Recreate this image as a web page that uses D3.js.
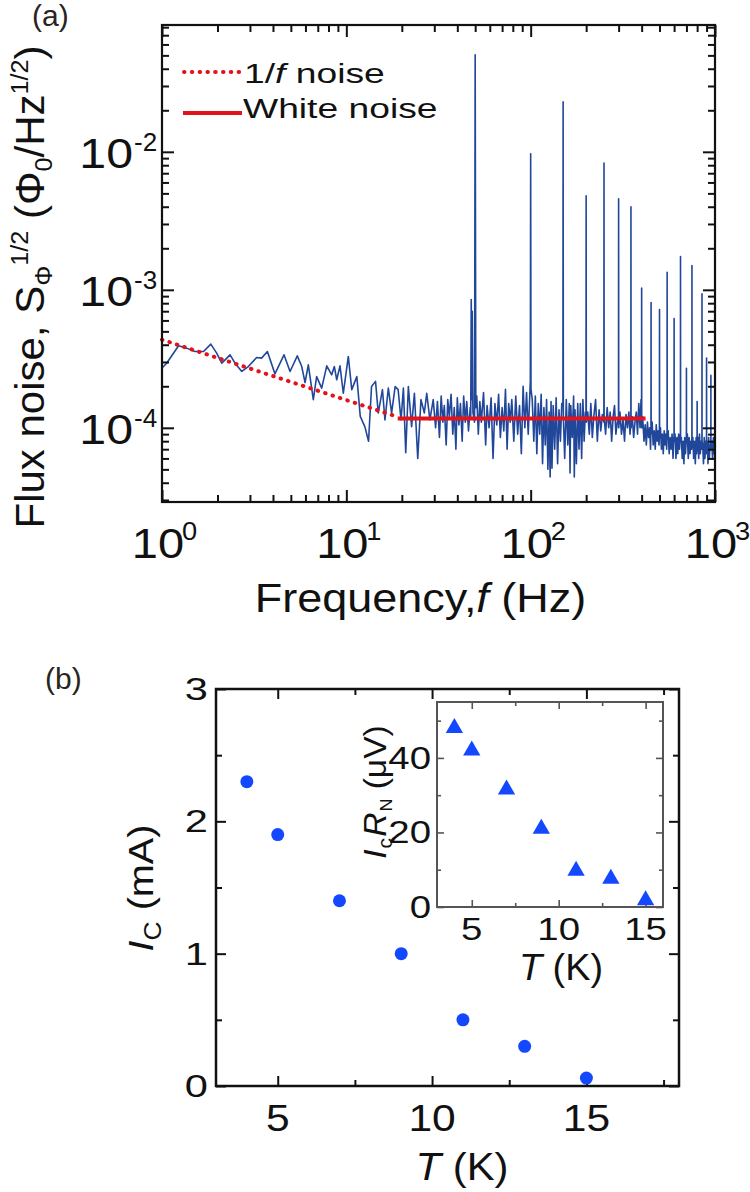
<!DOCTYPE html>
<html>
<head>
<meta charset="utf-8">
<script src="https://cdn.jsdelivr.net/npm/d3@7"></script>
<style>
  body { margin: 0; background: #fff; }
  text { font-family: "Liberation Sans", Arial, sans-serif; }
</style>
</head>
<body>
<svg id="chart" width="750" height="1192"></svg>
<script>
// ---------- data: panel (a) flux noise spectrum ----------
// [frequency (Hz), amplitude in units of 1e-4 Phi0/Hz^1/2]
const spectrum = [
  [1.0,2.71],[1.06,2.94],[1.23,3.93],[1.36,3.78],[1.51,3.57],[1.68,3.57],[1.84,4.04],[1.98,3.48],
  [2.11,2.94],[2.34,3.38],[2.49,2.94],[2.71,2.56],[2.94,2.78],[3.26,3.23],[3.47,3.20],[3.73,3.57],
  [4.10,2.46],[4.59,3.38],[4.95,2.56],[5.42,3.32],[5.73,2.78],[5.97,2.13],[6.22,2.86],[6.62,1.60],
  [6.90,2.35],[7.35,1.94],[7.83,2.81],[8.33,2.42],[8.61,2.78],[8.87,2.23],[9.24,2.81],[9.63,1.78],
  [10.25,3.29],[10.7,1.89],[11.4,2.35],[11.9,1.21],[12.6,1.02],[13.2,0.80],[13.7,1.99],[14.4,2.17],
  [14.9,1.28],[15.7,1.89],[16.2,1.14],[16.9,1.94],[17.6,1.28],[18.4,1.99],[19.1,1.89],[19.8,1.14],
  [20.4,1.94],[21.0,0.66],[21.7,1.99],[22.6,1.02],[23.4,1.78],[24.4,0.60],[25.4,1.60],[26.5,1.28],
  [27.3,1.78],[28.4,1.14],[29.6,1.60],
  [30.5,1.0],[31.2,1.55],[32,0.85],[32.7,1.7],[33.4,1.1],[34,1.45],[34.8,0.75],[35.5,1.6],[36.2,1.2],
  [37,1.75],[37.8,0.9],[38.5,1.4],[39.3,0.7],[40,1.65],[40.8,1.05],[41.6,1.5],[42.5,0.8],[43.3,1.7],
  [44.2,1.1],[45,1.55],[46,0.95],[47,1.4],
  [47.3,1.2],[47.6,8.5],[47.9,1.6],[48.2,7.0],[48.6,1.3],[49.6,1.1],[50,505],[50.4,1.4],
  [51,1.7],[52,0.9],[53,1.55],[54,1.1],[55.5,1.8],[57,0.75],[58,1.45],[59.5,1.0],[61,1.65],[62.5,0.6],
  [64,1.5],[65.5,1.05],[67,1.75],[68.5,0.85],[70,1.4],[71.5,0.95],[73,1.9],[74.5,0.7],[76,1.5],
  [77.5,1.1],[79,1.6],[81,0.8],[83,1.7],[85,0.9],[87,1.45],[89,0.65],[91,2.0],[93,1.0],[95,1.8],
  [97,0.9],[98.5,1.5],
  [99.6,2.2],[100,96.8],[100.4,1.9],
  [102,1.6],[104,0.8],[106,1.7],[108,0.65],[110,1.5],[112,0.9],[114,1.75],[116,0.55],[118,1.4],
  [120,0.75],[122,1.6],[124,0.5],[126,1.3],[127.5,0.44],[129,1.55],[130.5,0.51],[132.5,1.45],
  [135,0.7],[137.5,1.65],[140,0.55],[142.5,1.35],[145,0.8],[147.5,1.5],
  [149.6,1.5],[150,230],[150.4,1.2],
  [153,0.6],[156,1.6],[159,0.75],[162,1.5],[163.5,0.47],[165,1.45],[168,0.85],[171,1.7],[172.5,0.44],
  [174,1.35],[177,0.55],[180,1.5],[183,0.7],[186,1.5],[189,0.6],[192,1.6],[195,0.8],[198,1.3],
  [199.6,1.2],[200,48],[200.4,1.1],
  [204,1.3],[208,0.9],[212,1.5],[216,0.85],[220,1.2],[225,1.6],[230,0.8],[235,1.35],[240,0.95],[245,1.25],
  [249.6,1.1],[250,83],[250.4,1.2],
  [255,0.9],[260,1.4],[265,1.0],[270,1.3],[275,0.8],[280,1.2],[285,1.45],[290,0.9],[295,1.1],
  [299.6,1.2],[300,45.6],[300.4,1.0],
  [305,1.3],[311,0.9],[317,1.15],[323,0.8],[329,1.25],[335,1.0],[341,1.3],[346,0.9],
  [349.6,1.1],[350,40],[350.4,1.0],
  [356,1.2],[362,0.85],[368,1.1],[374,1.3],[380,0.9],[386,1.5],[392,1.0],[397,1.6],
  [399.6,1.1],[400,10.3],[400.4,1.0],
  [405,1.2],[412,0.8],[418,1.05],[424,0.75],[430,1.1],[436,0.85],[442,1.0],[447,0.7],
  [449.5,1.0],[450,8.1],[450.5,0.9],
  [456,1.1],[462,0.75],[468,0.95],[474,0.7],[480,1.05],[486,0.8],[492,0.95],[497,0.75],
  [499.5,0.9],[500,7.2],[500.5,0.85],
  [506,1.0],[512,0.7],[518,0.9],[524,0.65],[530,0.95],[536,0.75],[542,0.9],[547,0.7],
  [549.5,0.95],[550,13.4],[550.5,0.85],
  [557,0.95],[564,0.65],[571,0.85],[578,0.7],[585,0.9],[592,0.6],[597,0.85],
  [599.5,0.8],[600,6.2],[600.5,0.8],
  [607,0.9],[614,0.6],[621,0.85],[628,0.65],[635,0.9],[642,0.7],[647,0.85],
  [649.5,0.9],[650,17.4],[650.5,0.8],
  [657,0.85],[664,0.6],[671,0.8],[678,0.55],[685,0.85],[692,0.65],[697,0.8],
  [699.5,0.85],[700,2.7],[700.5,0.8],
  [708,0.9],[716,0.6],[724,0.85],[732,0.65],[740,0.8],[746,0.7],
  [749.5,0.85],[750,15],[750.5,0.8],
  [758,0.85],[766,0.6],[774,0.8],[782,0.55],[790,0.85],[796,0.65],
  [799.5,0.8],[800,1.55],[800.5,0.75],
  [808,0.85],[816,0.6],[824,0.9],[832,0.65],[840,0.8],[846,0.7],
  [849.5,0.8],[850,9.35],[850.5,0.8],
  [858,0.75],[866,0.55],[874,0.85],[882,0.6],[890,0.8],[896,0.65],
  [899.5,0.8],[900,3.2],[900.5,0.75],
  [908,0.8],[916,0.55],[924,0.85],[932,0.6],[940,0.75],[946,0.7],
  [949.5,0.7],[950,2.4],[950.5,0.7],
  [960,0.8],[970,0.6],[980,0.85],[990,0.65],[1000,0.8]
];
const oneOverF = [[1, 4.35], [19, 1.2]];
const whiteNoise = [[19, 1.17], [420, 1.17]];
const unitA = 1e-4;

const xTicksA = [1, 10, 100, 1000];
const xExpA = ["0", "1", "2", "3"];
const yTicksA = [1e-4, 1e-3, 1e-2];
const yExpA = ["-4", "-3", "-2"];

// ---------- data: panel (b) ----------
const tempK = [4, 5, 7, 9, 11, 13, 15];
const icmA = [2.3, 1.9, 1.4, 1.0, 0.5, 0.3, 0.06];
const icrnUV = [48, 42, 31.5, 21, 9.7, 7.6, 1.8];

const xTicksB = [5, 10, 15];
const xMinorB = [7.5, 12.5, 17.5];
const yTicksB = [0, 1, 2, 3];
const yMinorB = [0.5, 1.5, 2.5];
const xTicksIn = [5, 10, 15];
const xMinorIn = [7.5, 12.5];
const yTicksIn = [0, 20, 40];
const yMinorIn = [10, 30, 50];

const svg = d3.select("#chart");
svg.append("rect").attr("width", 750).attr("height", 1192).attr("fill", "#fff");

// text helper: stretched text, optional rotation, list of runs
function label(g, x, y, runs, o) {
    o = o || {};
    let tr = "translate(" + x + "," + y + ")";
    if (o.rotate) tr += " rotate(" + o.rotate + ")";
    tr += " scale(" + (o.sx || 1) + ",1)";
    const t = g.append("text")
        .attr("transform", tr)
        .attr("font-size", o.size)
        .attr("text-anchor", o.anchor || "start")
        .attr("fill", o.fill || "#111");
    if (typeof runs === "string") runs = [{t: runs}];
    let shift = 0;
    runs.forEach(r => {
        const s = r.shift || 0;
        t.append("tspan")
            .attr("dx", r.dx || null)
            .attr("dy", shift - s)
            .attr("font-size", r.size || o.size)
            .attr("font-style", r.italic ? "italic" : null)
            .text(r.t);
        shift = s;
    });
    return t;
}

function ticks(g, scale, orient, values, size, pos, color, w) {
    const make = {bottom: d3.axisBottom, top: d3.axisTop, left: d3.axisLeft, right: d3.axisRight}[orient];
    const ax = make(scale).tickValues(values).tickSize(-size).tickFormat("");
    const tr = (orient === "bottom" || orient === "top") ? "translate(0," + pos + ")" : "translate(" + pos + ",0)";
    const a = g.append("g").attr("transform", tr).call(ax);
    a.select(".domain").remove();
    a.selectAll("line").attr("stroke", color).attr("stroke-width", w);
}

// ================= panel (a) =================
const A = {left: 162, right: 715, top: 25, bottom: 502};
const xA = d3.scaleLog().domain([1, 1000]).range([A.left, A.right]);
const yA = d3.scaleLog().domain([2.9e-5, 0.083]).range([A.bottom, A.top]);
const gA = svg.append("g");

svg.append("clipPath").attr("id", "clipA").append("rect")
    .attr("x", A.left).attr("y", A.top).attr("width", A.right - A.left).attr("height", A.bottom - A.top);

const lineA = d3.line().x(d => xA(d[0])).y(d => yA(d[1] * unitA));
gA.append("path").datum(spectrum)
    .attr("clip-path", "url(#clipA)")
    .attr("d", lineA)
    .attr("fill", "none")
    .attr("stroke", "#21479a")
    .attr("stroke-width", 1.6)
    .attr("stroke-linejoin", "round");

gA.append("path").datum(oneOverF)
    .attr("d", lineA).attr("fill", "none")
    .attr("stroke", "#e3131b").attr("stroke-width", 4)
    .attr("stroke-linecap", "round").attr("stroke-dasharray", "0.5 7.3");
gA.append("path").datum(whiteNoise)
    .attr("d", lineA).attr("fill", "none")
    .attr("stroke", "#e3131b").attr("stroke-width", 4);

// ticks (inward, all four sides)
const xMinorA = xA.ticks().filter(v => xTicksA.indexOf(v) < 0);
const yMinorA = yA.ticks().filter(v => !yTicksA.some(t => Math.abs(t - v) / t < 1e-6));
ticks(gA, xA, "bottom", xTicksA, 12, A.bottom, "#111", 2);
ticks(gA, xA, "bottom", xMinorA, 7, A.bottom, "#111", 2);
ticks(gA, xA, "top", xTicksA, 12, A.top, "#111", 2);
ticks(gA, xA, "top", xMinorA, 7, A.top, "#111", 2);
ticks(gA, yA, "left", yTicksA, 12, A.left, "#111", 2);
ticks(gA, yA, "left", yMinorA, 7, A.left, "#111", 2);
ticks(gA, yA, "right", yTicksA, 12, A.right, "#111", 2);
ticks(gA, yA, "right", yMinorA, 7, A.right, "#111", 2);

gA.append("rect")
    .attr("x", A.left).attr("y", A.top)
    .attr("width", A.right - A.left).attr("height", A.bottom - A.top)
    .attr("fill", "none").attr("stroke", "#111").attr("stroke-width", 2.2);

// tick labels
xTicksA.forEach((v, i) => {
    label(gA, xA(v) - 4, 558, "10", {size: 42, sx: 1.12, anchor: "middle"});
    label(gA, xA(v) + 20, 540, xExpA[i], {size: 26, sx: 1.05});
});
yTicksA.forEach((v, i) => {
    label(gA, 133, yA(v) + 16, "10", {size: 42, sx: 1.15, anchor: "end"});
    label(gA, 134, yA(v) - 1, yExpA[i], {size: 26, sx: 1.0});
});

// axis titles
label(gA, 420.5, 612, [{t: "Frequency,"}, {t: "f", italic: true}, {t: " (Hz)"}],
    {size: 40, sx: 1.125, anchor: "middle"});
label(gA, 44, 287, [
    {t: "Flux noise, S"}, {t: "\u03A6", size: 24, shift: -8}, {t: "1/2", size: 24, shift: 16},
    {t: " (\u03A6"}, {t: "0", size: 24, shift: -8}, {t: "/Hz"}, {t: "1/2", size: 24, shift: 16}, {t: ")"}
], {size: 40, sx: 1.05, anchor: "middle", rotate: -90});

// legend
gA.append("line").attr("x1", 184).attr("x2", 242).attr("y1", 72).attr("y2", 72)
    .attr("stroke", "#e3131b").attr("stroke-width", 4)
    .attr("stroke-linecap", "round").attr("stroke-dasharray", "0.5 7.3");
label(gA, 244, 83, [{t: "1/"}, {t: "f", italic: true}, {t: " noise"}], {size: 28, sx: 1.33});
gA.append("line").attr("x1", 183).attr("x2", 242).attr("y1", 113).attr("y2", 113)
    .attr("stroke", "#e3131b").attr("stroke-width", 4);
label(gA, 243, 118, "White noise", {size: 28, sx: 1.33});

label(svg, 32, 26, "(a)", {size: 30, fill: "#2a2420"});

// ================= panel (b) =================
const B = {left: 216, right: 679, top: 689, bottom: 1086};
const xB = d3.scaleLinear().domain([3, 18]).range([B.left, B.right]);
const yB = d3.scaleLinear().domain([0, 3]).range([B.bottom, B.top]);
const gB = svg.append("g");

ticks(gB, xB, "bottom", xTicksB, 10, B.bottom, "#111", 2);
ticks(gB, xB, "bottom", xMinorB, 6, B.bottom, "#111", 2);
ticks(gB, xB, "top", xTicksB, 10, B.top, "#111", 2);
ticks(gB, xB, "top", xMinorB, 6, B.top, "#111", 2);
ticks(gB, yB, "left", yTicksB, 10, B.left, "#111", 2);
ticks(gB, yB, "left", yMinorB, 6, B.left, "#111", 2);
ticks(gB, yB, "right", yTicksB, 10, B.right, "#111", 2);
ticks(gB, yB, "right", yMinorB, 6, B.right, "#111", 2);

gB.append("rect")
    .attr("x", B.left).attr("y", B.top)
    .attr("width", B.right - B.left).attr("height", B.bottom - B.top)
    .attr("fill", "none").attr("stroke", "#111").attr("stroke-width", 2.5);

gB.selectAll("circle.ic").data(tempK).join("circle")
    .attr("class", "ic")
    .attr("cx", d => xB(d))
    .attr("cy", (d, i) => yB(icmA[i]))
    .attr("r", 6.5)
    .attr("fill", "#1448ff");

xTicksB.forEach(v => label(gB, xB(v), 1131, String(v), {size: 37, sx: 1.15, anchor: "middle"}));
yTicksB.forEach(v => label(gB, 208, yB(v) + 11, String(v), {size: 32, sx: 1.3, anchor: "end"}));

label(gB, 462, 1180, [{t: "T", italic: true}, {t: " (K)"}], {size: 38, sx: 1.1, anchor: "middle"});
label(gB, 153, 888, [{t: "I", italic: true}, {t: "C", size: 24, shift: -8}, {t: " (mA)"}],
    {size: 36, sx: 1.1, anchor: "middle", rotate: -90});

label(svg, 45, 689, "(b)", {size: 30, fill: "#2a2420"});

// ---------- inset ----------
const I = {left: 437, right: 663, top: 702, bottom: 907};
const xI = d3.scaleLinear().domain([3, 16]).range([I.left, I.right]);
const yI = d3.scaleLinear().domain([0, 55]).range([I.bottom, I.top]);
const gI = svg.append("g");

ticks(gI, xI, "bottom", xTicksIn, 7, I.bottom, "#555", 1.6);
ticks(gI, xI, "bottom", xMinorIn, 4, I.bottom, "#555", 1.6);
ticks(gI, xI, "top", xTicksIn, 7, I.top, "#555", 1.6);
ticks(gI, xI, "top", xMinorIn, 4, I.top, "#555", 1.6);
ticks(gI, yI, "left", yTicksIn, 7, I.left, "#555", 1.6);
ticks(gI, yI, "left", yMinorIn, 4, I.left, "#555", 1.6);
ticks(gI, yI, "right", yTicksIn, 7, I.right, "#555", 1.6);
ticks(gI, yI, "right", yMinorIn, 4, I.right, "#555", 1.6);

gI.append("rect")
    .attr("x", I.left).attr("y", I.top)
    .attr("width", I.right - I.left).attr("height", I.bottom - I.top)
    .attr("fill", "none").attr("stroke", "#555").attr("stroke-width", 2);

gI.selectAll("path.tri").data(tempK).join("path")
    .attr("class", "tri")
    .attr("transform", (d, i) => "translate(" + xI(d) + "," + yI(icrnUV[i]) + ")")
    .attr("d", d3.symbol().type(d3.symbolTriangle).size(130))
    .attr("fill", "#1448ff");

xTicksIn.forEach(v => label(gI, xI(v), 940, String(v), {size: 32, sx: 1.2, anchor: "middle"}));
yTicksIn.forEach(v => label(gI, 431, yI(v) + 11, String(v), {size: 32, sx: 1.2, anchor: "end"}));

label(gI, 561, 980, [{t: "T", italic: true}, {t: " (K)"}], {size: 36, sx: 1.05, anchor: "middle"});
label(gI, 386, 792, [
    {t: "I", italic: true}, {t: "c", size: 20, shift: -6, dx: 1}, {t: "R", italic: true, dx: 1},
    {t: "N", size: 17, shift: -6, dx: 1}, {t: " (\u03BCV)"}
], {size: 32, sx: 1.05, anchor: "middle", rotate: -90});
</script>
</body>
</html>
